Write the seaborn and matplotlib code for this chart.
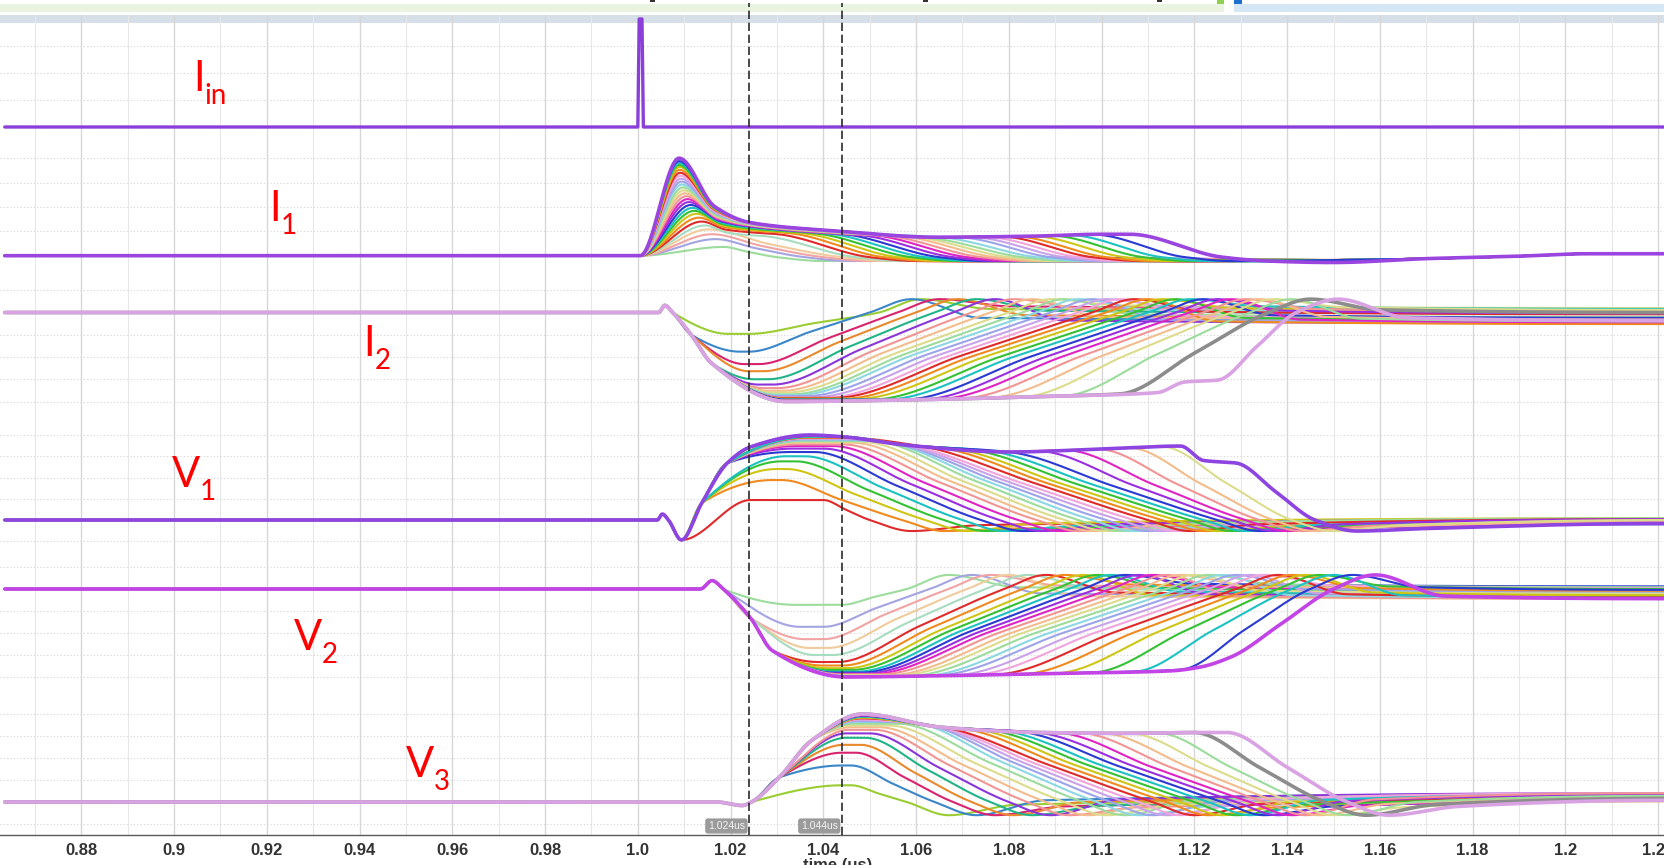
import numpy as np
import matplotlib
matplotlib.use("Agg")
import matplotlib.pyplot as plt
from matplotlib.patches import Rectangle
import seaborn as sns

# ---------------------------------------------------------------- data ----
T0, T1 = 0.8635, 1.2213            # first / last simulated time point (us)
X_LEFT, X_RIGHT = 0.86248, 1.22126  # visible time window

X_TICKS = [0.88, 0.9, 0.92, 0.94, 0.96, 0.98, 1.0, 1.02, 1.04, 1.06, 1.08,
           1.1, 1.12, 1.14, 1.16, 1.18, 1.2, 1.22]
X_TICK_LABELS = ["0.88", "0.9", "0.92", "0.94", "0.96", "0.98", "1.0", "1.02",
                 "1.04", "1.06", "1.08", "1.1", "1.12", "1.14", "1.16", "1.18",
                 "1.2", "1.22"]
CURSORS = [1.024, 1.044]
CURSOR_LABELS = ["1.024us", "1.044us"]

# input current pulse
IIN_T = [T0, 1.0, 1.0003, 1.0009, 1.0012, T1]
IIN_V = [0.0, 0.0, 1.0, 1.0, 0.0, 0.0]

# I1: pulse peak, peak time, level at 1.0242, time back at zero
I1_PEAK = [0.09, 0.17, 0.22, 0.27, 0.31, 0.35, 0.39, 0.43, 0.46, 0.49, 0.52, 0.55, 0.58, 0.61,
           0.64, 0.67, 0.70, 0.73, 0.76, 0.79, 0.82, 0.85, 0.88, 0.91, 0.93, 0.95, 0.97, 1.00]
I1_PEAK_T = [1.0185, 1.0168, 1.0160, 1.0152, 1.0145, 1.0138, 1.0132, 1.0127, 1.0122, 1.0118,
             1.0114, 1.0110, 1.0107, 1.0104, 1.0101, 1.0099, 1.0097, 1.0095, 1.0094, 1.0093,
             1.0092, 1.0091, 1.0090, 1.0090, 1.0089, 1.0089, 1.0089, 1.0089]
I1_LEVEL = [0.06, 0.12, 0.16, 0.19, 0.21, 0.24, 0.26, 0.27, 0.28, 0.29, 0.30, 0.30, 0.31, 0.31,
            0.32, 0.32, 0.32, 0.33, 0.33, 0.33, 0.33, 0.34, 0.34, 0.34, 0.34, 0.34, 0.34, 0.34]
I1_DROP = [1.030, 1.036, 1.040, 1.044, 1.047, 1.050, 1.053, 1.056, 1.059, 1.062, 1.065, 1.068,
           1.071, 1.074, 1.077, 1.080, 1.083, 1.086, 1.089, 1.092, 1.095, 1.098, 1.101, 1.105,
           1.109, 1.113, 1.118, 1.126]
I1_SETTLE = [-0.02, -0.04, -0.03, -0.05, -0.02, -0.06, -0.03, -0.05, -0.04, -0.06, -0.02, -0.05,
             -0.03, -0.06, -0.04, -0.05, -0.03, -0.06, -0.04, -0.05, -0.03, -0.06, -0.04, -0.05,
             -0.04, -0.06, -0.05, -0.07]
I1_TOP_T = [1.0242, 1.044, 1.064, 1.085, 1.100, 1.112]
I1_TOP_V = [0.34, 0.25, 0.19, 0.20, 0.22, 0.22]
I1_TAIL_T = [1.15, 1.17, 1.19, 1.205]
I1_TAIL_V = [-0.045, -0.03, -0.005, 0.02]

# I2: dip depth, time of minimum, start / end of recovery, settled level
I2_PRE = [(T0, 0.0), (1.0045, 0.0), (1.0058, 0.08), (1.0075, 0.0)]
I2_APPROACH = [(1.0115, -0.25), (1.0159, -0.57), (1.0207, -0.89), (1.0265, -1.0)]
I2_FLOOR = [(1.0265, 1.0), (1.06, 0.98), (1.09, 0.94), (1.112, 0.90), (1.118, 0.78), (1.125, 0.76)]
I2_DEPTH = [0.24, 0.44, 0.58, 0.66, 0.75, 0.81, 0.85, 0.88, 0.90, 0.92, 0.93, 0.94, 0.95, 0.96,
            0.96, 0.97, 0.97, 0.98, 0.98, 0.98, 0.99, 0.99, 0.99, 1.00, 1.00, 1.00, 1.00, 1.00]
I2_MIN_T = [1.0195, 1.0220, 1.0230, 1.0240, 1.0250, 1.0260, 1.0270, 1.0280, 1.0290, 1.0295,
            1.0300, 1.0300, 1.0305, 1.0305, 1.0310, 1.0310, 1.0315, 1.0315, 1.0320, 1.0320,
            1.0320, 1.0320, 1.0320, 1.0320, 1.0320, 1.0320, 1.0320, 1.0320]
I2_RISE_START = [1.024, 1.024, 1.026, 1.027, 1.028, 1.029, 1.030, 1.031, 1.032, 1.033, 1.034,
                 1.036, 1.038, 1.040, 1.042, 1.044, 1.047, 1.050, 1.053, 1.057, 1.061, 1.065,
                 1.070, 1.076, 1.083, 1.092, 1.104, 1.125]
I2_RISE_END = [1.052, 1.050, 1.056, 1.060, 1.064, 1.068, 1.072, 1.076, 1.080, 1.083, 1.086,
               1.089, 1.092, 1.095, 1.098, 1.101, 1.104, 1.107, 1.110, 1.113, 1.116, 1.119,
               1.122, 1.125, 1.128, 1.132, 1.136, 1.142]
I2_SETTLE = [0.04, -0.06, 0.07, -0.03, 0.02, -0.09, 0.05, -0.05, 0.08, -0.02, 0.03, -0.08, 0.06,
             -0.04, 0.01, -0.10, 0.05, -0.06, 0.07, -0.03, 0.02, -0.08, 0.04, -0.05, 0.06, -0.07,
             0.03, -0.06]

# V1: peak height, peak time, start / end of fall, settled level
V1_PRE = [(T0, 0.0), (1.0042, 0.0), (1.0053, 0.07), (1.0066, 0.0), (1.0094, -0.235)]
V1_APPROACH = [(1.0138, 0.20), (1.0193, 0.67), (1.0243, 0.86), (1.0337, 1.0)]
V1_TOP = [(1.0337, 1.0), (1.044, 0.98), (1.058, 0.88), (1.080, 0.80), (1.102, 0.84),
          (1.117, 0.87), (1.122, 0.70), (1.129, 0.67)]
V1_PEAK = [0.235, 0.47, 0.60, 0.69, 0.75, 0.80, 0.84, 0.87, 0.89, 0.91, 0.92, 0.93, 0.94, 0.95,
           0.96, 0.96, 0.97, 0.97, 0.98, 0.98, 0.98, 0.99, 0.99, 0.99, 1.00, 1.00, 1.00, 1.00]
V1_PEAK_T = [1.0243, 1.0290, 1.0300, 1.0310, 1.0320, 1.0330, 1.0335, 1.0340, 1.0345, 1.0350,
             1.0350, 1.0355, 1.0355, 1.0360, 1.0360, 1.0360, 1.0365, 1.0365, 1.0365, 1.0370,
             1.0370, 1.0370, 1.0370, 1.0370, 1.0370, 1.0370, 1.0370, 1.0370]
V1_FALL_START = [1.040, 1.031, 1.032, 1.034, 1.036, 1.038, 1.040, 1.042, 1.044, 1.046, 1.048,
                 1.050, 1.052, 1.054, 1.056, 1.058, 1.061, 1.064, 1.067, 1.071, 1.075, 1.080,
                 1.086, 1.092, 1.099, 1.106, 1.113, 1.129]
V1_FALL_END = [1.050, 1.057, 1.062, 1.066, 1.070, 1.074, 1.078, 1.082, 1.086, 1.089, 1.092,
               1.095, 1.098, 1.101, 1.104, 1.107, 1.110, 1.113, 1.116, 1.119, 1.122, 1.125,
               1.128, 1.131, 1.134, 1.137, 1.141, 1.146]
V1_SETTLE = [-0.06, -0.10, -0.04, -0.09, -0.07, -0.11, -0.05, -0.08, -0.10, -0.06, -0.09, -0.04,
             -0.08, -0.11, -0.06, -0.09, -0.05, -0.10, -0.07, -0.08, -0.06, -0.10, -0.05, -0.09,
             -0.07, -0.08, -0.06, -0.10]

# V2: dip depth, time of minimum, start / end of recovery, settled level
V2_PRE = [(T0, 0.0), (1.0135, 0.0), (1.016, 0.095), (1.0184, 0.0)]
V2_APPROACH = [(1.0243, -0.33), (1.029, -0.70), (1.0352, -0.92), (1.0414, -1.0)]
V2_FLOOR = [(1.0414, 1.0), (1.06, 0.99), (1.09, 0.96), (1.115, 0.93), (1.121, 0.89), (1.128, 0.77)]
V2_DEPTH = [0.18, 0.43, 0.57, 0.67, 0.75, 0.83, 0.87, 0.90, 0.92, 0.94, 0.95, 0.96, 0.97, 0.97,
            0.98, 0.98, 0.99, 0.99, 0.99, 1.00, 1.00, 1.00, 1.00, 1.00, 1.00, 1.00, 1.00, 1.00]
V2_MIN_T = [1.034, 1.035, 1.036, 1.037, 1.038, 1.039, 1.040, 1.041, 1.041, 1.042, 1.042, 1.043,
            1.043, 1.044, 1.044, 1.044, 1.045, 1.045, 1.045, 1.045, 1.045, 1.045, 1.045, 1.045,
            1.045, 1.045, 1.045, 1.045]
V2_RISE_START = [1.044, 1.040, 1.040, 1.041, 1.042, 1.043, 1.044, 1.045, 1.046, 1.047, 1.048,
                 1.049, 1.050, 1.052, 1.054, 1.056, 1.058, 1.061, 1.064, 1.068, 1.072, 1.077,
                 1.083, 1.090, 1.098, 1.107, 1.117, 1.128]
V2_RISE_END = [1.058, 1.063, 1.067, 1.071, 1.075, 1.079, 1.083, 1.087, 1.090, 1.093, 1.096,
               1.099, 1.102, 1.105, 1.108, 1.111, 1.114, 1.117, 1.120, 1.123, 1.126, 1.129,
               1.132, 1.135, 1.138, 1.141, 1.145, 1.150]
V2_SETTLE = [0.02, -0.05, 0.04, -0.08, 0.00, -0.04, 0.05, -0.07, 0.01, -0.03, 0.06, -0.06, 0.02,
             -0.08, 0.03, -0.02, 0.05, -0.07, 0.00, -0.05, 0.04, -0.06, 0.01, -0.04, 0.03, -0.07,
             0.02, -0.08]

# V3: peak height, peak time, start / end of fall, settled level
V3_PRE = [(T0, 0.0), (1.017, 0.0), (1.0225, -0.04), (1.0245, 0.0)]
V3_APPROACH = [(1.0305, 0.28), (1.0375, 0.70), (1.0439, 0.94), (1.0486, 1.0)]
V3_TOP = [(1.0486, 1.0), (1.0653, 0.85), (1.0862, 0.79), (1.105, 0.78), (1.121, 0.79)]
V3_PEAK = [0.19, 0.415, 0.56, 0.65, 0.73, 0.78, 0.82, 0.85, 0.87, 0.89, 0.91, 0.92, 0.93, 0.94,
           0.95, 0.96, 0.96, 0.97, 0.97, 0.98, 0.98, 0.99, 0.99, 0.99, 1.00, 1.00, 1.00, 1.00]
V3_PEAK_T = [1.0440, 1.0440, 1.0440, 1.0445, 1.0450, 1.0450, 1.0455, 1.0460, 1.0460, 1.0465,
             1.0470, 1.0470, 1.0475, 1.0480, 1.0480, 1.0485, 1.0485, 1.0485, 1.0485, 1.0485,
             1.0485, 1.0485, 1.0485, 1.0485, 1.0485, 1.0485, 1.0485, 1.0485]
V3_FALL_START = [1.046, 1.046, 1.047, 1.048, 1.049, 1.050, 1.051, 1.052, 1.054, 1.056, 1.058,
                 1.060, 1.062, 1.064, 1.066, 1.069, 1.072, 1.075, 1.078, 1.082, 1.086, 1.090,
                 1.095, 1.100, 1.106, 1.112, 1.120, 1.127]
V3_FALL_END = [1.058, 1.064, 1.068, 1.072, 1.076, 1.080, 1.084, 1.088, 1.092, 1.096, 1.099,
               1.102, 1.105, 1.108, 1.111, 1.114, 1.117, 1.120, 1.123, 1.126, 1.129, 1.132,
               1.135, 1.138, 1.141, 1.144, 1.148, 1.153]
V3_SETTLE = [-0.03, 0.02, -0.05, 0.00, -0.04, 0.03, -0.06, -0.01, -0.03, 0.02, -0.05, 0.01,
             -0.04, 0.03, -0.02, -0.06, 0.00, -0.03, 0.02, -0.05, 0.01, -0.04, 0.03, -0.02,
             -0.06, 0.00, -0.03, -0.05]

# trace names: (letter, subscript, x px, baseline px)
TRACE_NAMES = [
    ("I", "in", 193, 91),
    ("I", "1", 269, 221),
    ("I", "2", 363, 356),
    ("V", "1", 172, 487),
    ("V", "2", 294, 650),
    ("V", "3", 406, 777),
]

# ------------------------------------------------------------- styling ----
W, H = 1664, 865
SAT = ["#e02a2a", "#f08a1e", "#cfc514", "#34c234", "#1cc2c2", "#2a3ad2", "#9a2ee0", "#e024c4"]
PAS = ["#f29494", "#f4bc8c", "#dcdc8c", "#9cdc9c", "#8cd8e2", "#9ca4ea", "#caa2ea", "#f2a4dc"]
SEQ_A = ["#9acd32", "#3a86c8", "#d8246e", "#e8892c", "#20b486", "#8b34d8"] + PAS + SAT + PAS[:6]
SEQ_B = ["#9cdc9c", "#a4a4e2", "#f2a4a4", "#f0cc9c", "#a8dcc0"] + SAT + PAS + SAT[:7]
SEQ_C = SAT + PAS + SAT + PAS[:4]

sns.set_style("white")
plt.rcParams["font.family"] = ["Liberation Sans", "DejaVu Sans"]

TGRID = np.linspace(T0, T1, 2600)


def pchip(xk, yk, x):
    """Monotone cubic (Fritsch-Carlson) curve through the knots."""
    xk = np.asarray(xk, float)
    yk = np.asarray(yk, float)
    h = np.diff(xk)
    d = np.diff(yk) / h
    m = np.zeros_like(yk)
    for i in range(1, len(xk) - 1):
        if d[i - 1] * d[i] > 0:
            w1 = 2 * h[i] + h[i - 1]
            w2 = h[i] + 2 * h[i - 1]
            m[i] = (w1 + w2) / (w1 / d[i - 1] + w2 / d[i])
    i = np.clip(np.searchsorted(xk, x, side="right") - 1, 0, len(h) - 1)
    s = (x - xk[i]) / h[i]
    h00 = (1 + 2 * s) * (1 - s) ** 2
    h10 = s * (1 - s) ** 2
    h01 = s * s * (3 - 2 * s)
    h11 = s * s * (s - 1)
    return h00 * yk[i] + h10 * h[i] * m[i] + h01 * yk[i + 1] + h11 * h[i] * m[i + 1]


class Knots:
    def __init__(self):
        self.x, self.y = [], []

    def add(self, x, y):
        if not self.x or x > self.x[-1] + 2e-4:
            self.x.append(float(x))
            self.y.append(float(y))

    def curve(self):
        return pchip(self.x, self.y, TGRID)


def i1_trace(k):
    p, tp, lv, dr = I1_PEAK[k], I1_PEAK_T[k], I1_LEVEL[k], I1_DROP[k]
    kn = Knots()
    kn.add(T0, 0.0)
    kn.add(1.0005, 0.0)
    kn.add(tp, p)
    hold = dr - 0.02
    scale = lv / I1_TOP_V[0]
    if hold > 1.0262:
        kn.add(tp + 0.5 * (1.0242 - tp), lv + 0.25 * (p - lv))
        kn.add(1.0242, lv)
        for tt, vv in zip(I1_TOP_T[1:], I1_TOP_V[1:]):
            if tt < hold - 0.003:
                kn.add(tt, vv * scale)
        kn.add(hold, float(np.interp(hold, I1_TOP_T, I1_TOP_V)) * scale)
    else:
        kn.add(tp + 0.45 * (dr - tp), 0.45 * p)
    kn.add(dr, -0.015)
    kn.add(dr + 0.010, -0.055)
    kn.add(dr + 0.024, I1_SETTLE[k])
    for tt, vv in zip(I1_TAIL_T, I1_TAIL_V):
        if tt > dr + 0.03:
            kn.add(tt, vv)
    kn.add(T1, I1_TAIL_V[-1])
    return kn.curve()


def swing_trace(sign, pre, approach, top, amp, t_pk, t_leave, t_back, rebound, settle, end_shift):
    kn = Knots()
    for x, y in pre:
        kn.add(x, y)
    for x, y in approach:
        if sign * y < amp - 0.12 and x < t_pk - 0.003:
            kn.add(x, y)
    kn.add(t_pk, sign * amp)
    tx = [p[0] for p in top]
    tv = [p[1] for p in top]
    for x, y in top:
        if t_pk + 0.003 < x < t_leave - 0.003:
            kn.add(x, sign * min(amp, y))
    lvl = min(amp, float(np.interp(t_leave, tx, tv)))
    kn.add(t_leave, sign * lvl)
    kn.add(0.5 * (t_leave + t_back), 0.5 * sign * lvl)
    kn.add(t_back, 0.0)
    kn.add(t_back + 0.009, -sign * rebound)
    kn.add(t_back + 0.024, settle)
    kn.add(T1, settle + end_shift)
    return kn.curve()


# ---------------------------------------------------------------- layout --
# (top px, bottom px, zero-level px, px per unit)
PANEL_GEOM = {
    "Iin": (15, 138, 127.0, 108.0),
    "I1": (138, 272, 255.7, 97.5),
    "I2": (272, 418, 312.5, 89.0),
    "V1": (418, 560, 520.0, 85.0),
    "V2": (560, 693, 589.0, 88.0),
    "V3": (693, 835, 802.0, 88.0),
}

fig = plt.figure(figsize=(W / 100, H / 100), dpi=100)
fig.patch.set_facecolor("white")


def px_rect(top, bottom):
    return [0.0, 1 - bottom / H, 1.0, (bottom - top) / H]


# header strips
def fig_rect(x0, y0, x1, y1, color):
    fig.add_artist(Rectangle((x0 / W, 1 - y1 / H), (x1 - x0) / W, (y1 - y0) / H,
                             transform=fig.transFigure, facecolor=color, edgecolor="none",
                             zorder=0))


fig_rect(0, 4, 1224, 12, "#e9f3df")
fig_rect(1217, 0, 1224, 4, "#8fd14f")
fig_rect(1234, 4, W, 12, "#d5e6f5")
fig_rect(1234, 0, 1242, 4, "#1f6fd0")
for xm in (650, 923, 1157):
    fig_rect(xm, 0, xm + 5, 2, "#333333")

# background: time grid and time axis
bg = fig.add_axes(px_rect(15, 835), zorder=0)
bg.set_xlim(X_LEFT, X_RIGHT)
bg.set_ylim(0, 1)
bg.axhspan(1 - 8 / 820, 1.0, color="#d6dee8", zorder=0, lw=0)
for g in np.arange(0.87, 1.2205, 0.01):
    major = abs(round(g / 0.02) * 0.02 - g) < 1e-6
    bg.axvline(g, color="#d7d7d7" if major else "#e8e8e8", lw=1.0 if major else 0.8, zorder=0.5)
for s in ("top", "left", "right"):
    bg.spines[s].set_visible(False)
bg.spines["bottom"].set_color("#5a5a5a")
bg.spines["bottom"].set_linewidth(1.0)
bg.set_yticks([])
bg.set_xticks(X_TICKS)
bg.set_xticklabels(X_TICK_LABELS)
bg.set_xticks(np.arange(0.864, 1.2212, 0.002), minor=True)
bg.tick_params(axis="x", which="both", direction="out", length=3.5, width=0.8,
               color="#5a5a5a", pad=2.5)
for lab in bg.get_xticklabels():
    lab.set_fontsize(12)
    lab.set_fontweight("bold")
    lab.set_color("#333333")
fig.text(838 / W, 1 - 870 / H, "time (us)", ha="center", va="baseline",
         fontsize=12, fontweight="bold", color="#333333")


def panel(name):
    top, bottom, base, unit = PANEL_GEOM[name]
    ax = fig.add_axes(px_rect(top, bottom), zorder=1)
    ax.set_facecolor("none")
    lo = (base - bottom) / unit
    hi = (base - top) / unit
    ax.set_xlim(X_LEFT, X_RIGHT)
    ax.set_ylim(lo, hi)
    rows = [v for v in np.arange(-2.0, 2.01, 0.25) if lo + 0.05 < v < hi - 0.05 and abs(v) > 1e-6]
    for v in rows:
        ax.axhline(v, color="#d4d4d4", lw=0.8, ls=(0, (1, 2)), zorder=0)
    ax.axis("off")
    return ax


def draw(ax, y, color, lw, z):
    sns.lineplot(x=TGRID, y=y, ax=ax, color=color, linewidth=lw, estimator=None,
                 sort=False, legend=False, zorder=z, solid_capstyle="round")


N = 28

# Iin
ax = panel("Iin")
sns.lineplot(x=IIN_T, y=IIN_V, ax=ax, color="#8a40d8", linewidth=2.4, estimator=None,
             sort=False, legend=False, zorder=3)
ax.set_xlim(X_LEFT, X_RIGHT)

# I1
ax = panel("I1")
for k in range(N):
    col = "#9b45e0" if k == N - 1 else SEQ_B[k]
    draw(ax, i1_trace(k), col, 2.6 if k == N - 1 else 1.5, 2 + k * 0.01)
ax.set_xlim(X_LEFT, X_RIGHT)

# I2
ax = panel("I2")
for k in range(N):
    y = swing_trace(-1, I2_PRE, I2_APPROACH, I2_FLOOR, I2_DEPTH[k], I2_MIN_T[k],
                    I2_RISE_START[k], I2_RISE_END[k], 0.15, I2_SETTLE[k], -0.03)
    col = "#d9a3e3" if k == N - 1 else ("#8c8c8c" if k == N - 2 else SEQ_A[k])
    draw(ax, y, col, 2.6 if k >= N - 2 else 1.5, 2 + k * 0.01)
ax.set_xlim(X_LEFT, X_RIGHT)

# V1
ax = panel("V1")
for k in range(N):
    y = swing_trace(1, V1_PRE, V1_APPROACH, V1_TOP, V1_PEAK[k], V1_PEAK_T[k],
                    V1_FALL_START[k], V1_FALL_END[k], 0.13, V1_SETTLE[k], 0.06)
    col = "#8e44e0" if k == N - 1 else SEQ_C[k]
    draw(ax, y, col, 2.6 if k == N - 1 else 1.5, 2 + k * 0.01)
ax.set_xlim(X_LEFT, X_RIGHT)

# V2
ax = panel("V2")
for k in range(N):
    y = swing_trace(-1, V2_PRE, V2_APPROACH, V2_FLOOR, V2_DEPTH[k], V2_MIN_T[k],
                    V2_RISE_START[k], V2_RISE_END[k], 0.16, V2_SETTLE[k], -0.03)
    col = "#c243e6" if k == N - 1 else SEQ_B[k]
    draw(ax, y, col, 2.6 if k == N - 1 else 1.5, 2 + k * 0.01)
ax.set_xlim(X_LEFT, X_RIGHT)

# V3
ax = panel("V3")
for k in range(N):
    y = swing_trace(1, V3_PRE, V3_APPROACH, V3_TOP, V3_PEAK[k], V3_PEAK_T[k],
                    V3_FALL_START[k], V3_FALL_END[k], 0.15, V3_SETTLE[k], 0.07)
    col = "#d9a3e3" if k == N - 1 else ("#8c8c8c" if k == N - 2 else SEQ_A[k])
    draw(ax, y, col, 2.6 if k >= N - 2 else 1.5, 2 + k * 0.01)
ax.set_xlim(X_LEFT, X_RIGHT)

# cursors on top of everything
ov = fig.add_axes(px_rect(15, 835), zorder=5)
ov.set_facecolor("none")
ov.set_xlim(X_LEFT, X_RIGHT)
ov.set_ylim(0, 1)
ov.axis("off")
for c, lab in zip(CURSORS, CURSOR_LABELS):
    ov.axvline(c, ymin=0, ymax=(835 - 3) / 820, color="#2b2b2b", lw=1.2,
               ls=(0, (5, 2.2)), clip_on=False)
    ov.text(c - 0.0009, (835 - 826) / 820, lab, ha="right", va="center", fontsize=7.5,
            color="#f4f4f4", family=["Liberation Sans Narrow", "Liberation Sans"],
            bbox=dict(boxstyle="round,pad=0.25", fc="#9b9b9b", ec="none"))

# trace names with a dropped subscript
NAME_FONT = ["Lato", "DejaVu Sans"]
mains = []
for letter, sub, x, base in TRACE_NAMES:
    mains.append(fig.text(x / W, 1 - base / H, letter, color="#ff0000", fontsize=30,
                          family=NAME_FONT, ha="left", va="baseline", zorder=10))
fig.canvas.draw()
renderer = fig.canvas.get_renderer()
for txt, (letter, sub, x, base) in zip(mains, TRACE_NAMES):
    bb = txt.get_window_extent(renderer)
    fig.text(bb.x1 / W, 1 - (base + 13) / H, sub, color="#ff0000", fontsize=20,
             family=NAME_FONT, ha="left", va="baseline", zorder=10)

fig.savefig("out.png", dpi=100)
